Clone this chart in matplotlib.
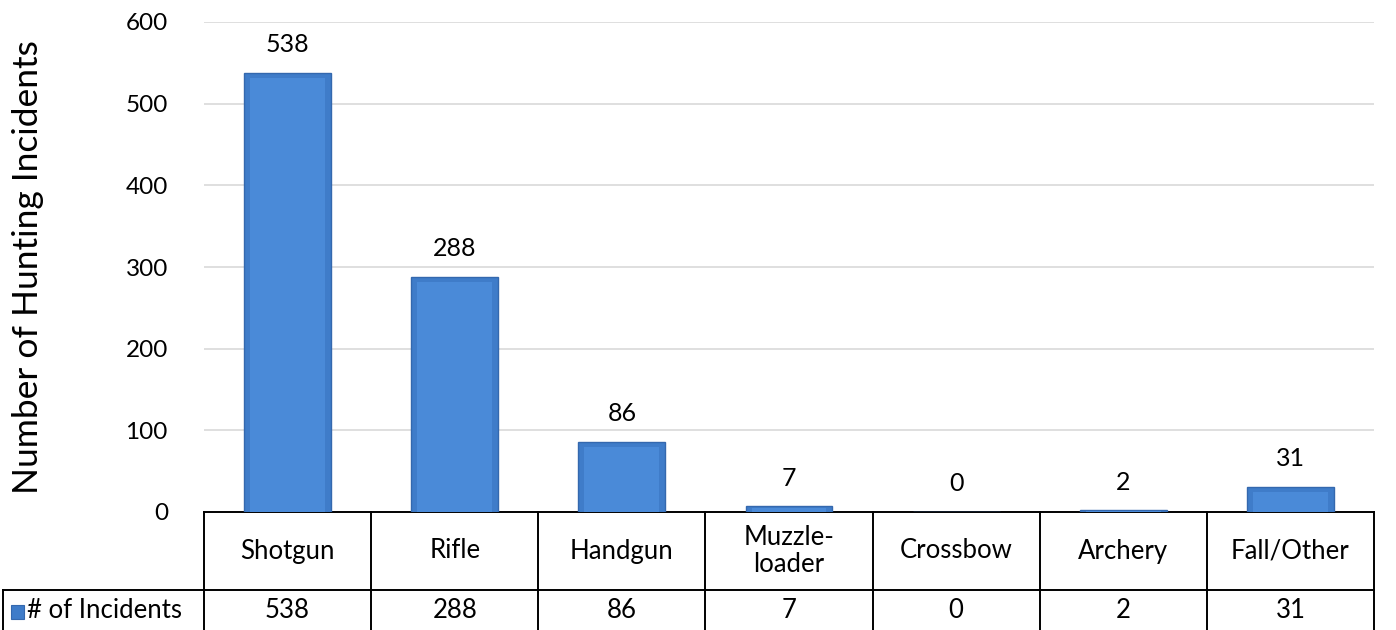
import matplotlib
matplotlib.use("Agg")
import matplotlib.pyplot as plt
from matplotlib.transforms import blended_transform_factory
from matplotlib.lines import Line2D
from matplotlib.patches import Rectangle

categories = ["Shotgun", "Rifle", "Handgun", "Muzzle-\nloader", "Crossbow", "Archery", "Fall/Other"]
incidents = [538, 288, 86, 7, 0, 2, 31]
series_name = "# of Incidents"
yticks = [0, 100, 200, 300, 400, 500, 600]

plt.rcParams['font.family'] = ['Lato', 'DejaVu Sans']

W, H = 1396, 630
fig = plt.figure(figsize=(W / 100, H / 100), dpi=100)
ax = fig.add_axes([204 / W, (H - 512) / H, (1374 - 204) / W, (512 - 22) / H])

n = len(categories)
x = list(range(n))
bars = ax.bar(x, incidents, width=0.52, color="#3f7cc9", edgecolor="#3468ae", linewidth=1.0, zorder=3)
# bevel highlight
for b in bars:
    h = b.get_height()
    if h > 0:
        bx, bw = b.get_x(), b.get_width()
        inset = min(h * 0.3, 6)
        ax.add_patch(Rectangle((bx + bw * 0.07, 0), bw * 0.86, max(h - inset, h * 0.6),
                               facecolor="#4a8ad8", edgecolor="none", zorder=3.5))

for xi, v in zip(x, incidents):
    ax.annotate(str(v), (xi, v), xytext=(0, 12), textcoords="offset points",
                ha="center", va="bottom", fontsize=18, color="black")

ax.set_xlim(-0.5, n - 0.5)
ax.set_ylim(0, 600)
ax.set_yticks(yticks)
ax.set_yticklabels([str(t) for t in yticks], fontsize=17.5)
ax.tick_params(axis="y", length=0, pad=26)
ax.set_xticks([])
ax.grid(axis="y", color="#d9d9d9", linewidth=1.2, zorder=0)
for s in ax.spines.values():
    s.set_visible(False)
ax.set_ylabel("Number of Hunting Incidents", fontsize=25.5)
ax.yaxis.set_label_coords(-0.137, 0.5)

# data table below the axes
tr = blended_transform_factory(ax.transData, fig.transFigure)
def fy(p):
    return (H - p) / H

lw = 1.4
ax.add_line(Line2D([-0.5, n - 0.5], [fy(512), fy(512)], transform=tr, color="black", lw=lw, clip_on=False))
fig.add_artist(Line2D([3 / W, 1374 / W], [fy(590), fy(590)], color="black", lw=lw))
for i in range(n + 1):
    ax.add_line(Line2D([i - 0.5, i - 0.5], [fy(512), fy(632)], transform=tr, color="black", lw=lw, clip_on=False))
fig.add_artist(Line2D([3 / W, 3 / W], [fy(590), fy(632)], color="black", lw=lw))

for xi, c in zip(x, categories):
    ax.text(xi, fy(551), c, transform=tr, ha="center", va="center", fontsize=18.5, linespacing=1.1)
for xi, v in zip(x, incidents):
    ax.text(xi, fy(611), str(v), transform=tr, ha="center", va="center", fontsize=18.5)

fig.add_artist(Rectangle((11 / W, fy(619)), 13 / W, 14 / H, facecolor="#3f7cc9", edgecolor="#3468ae", lw=0.8))
fig.text(27 / W, fy(611), series_name, ha="left", va="center", fontsize=18.5)

fig.savefig("out.png", dpi=100)
